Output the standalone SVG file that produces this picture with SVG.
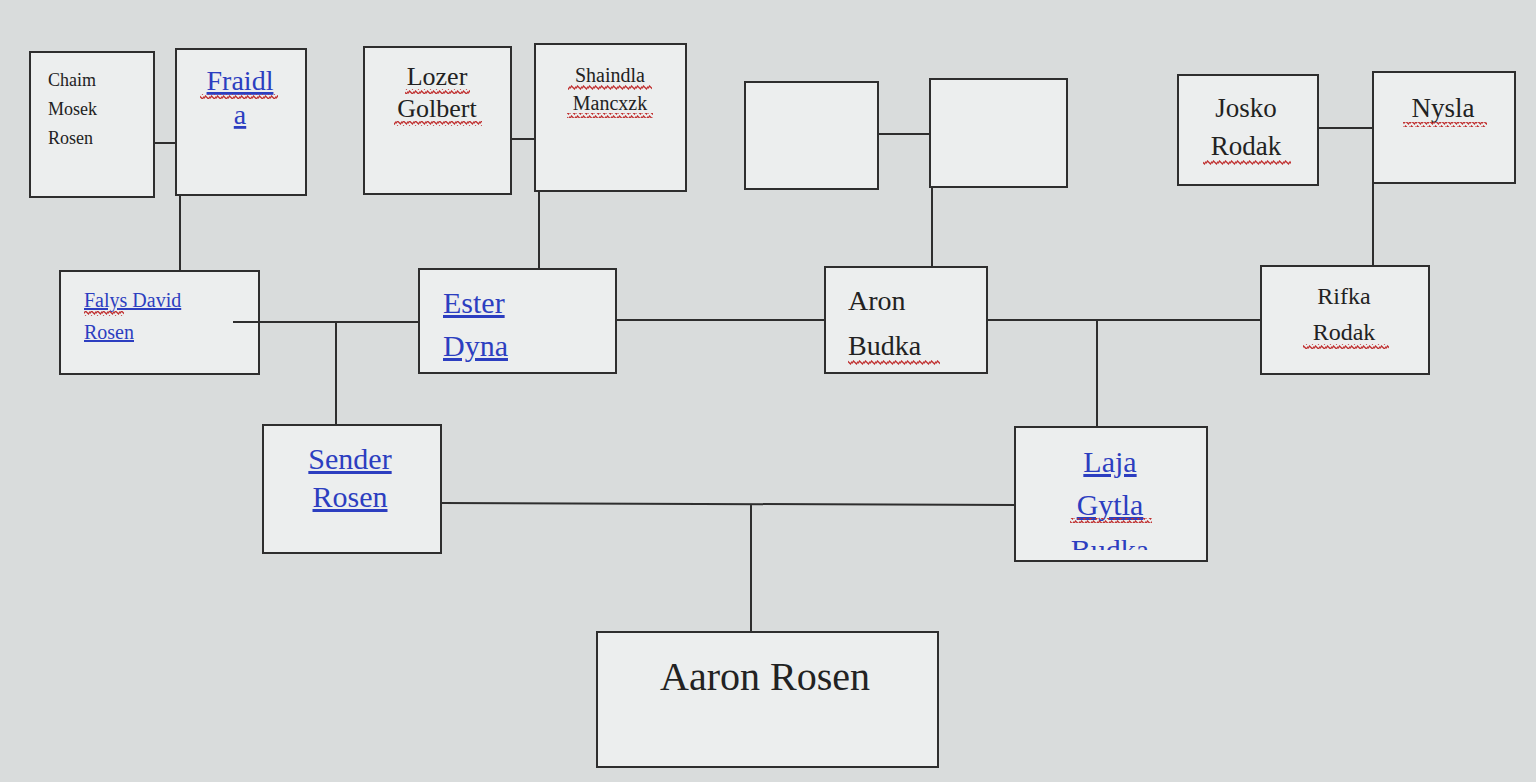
<svg xmlns="http://www.w3.org/2000/svg" width="1536" height="782" viewBox="0 0 1536 782">
<defs>
<pattern id="wavy" width="6" height="5" patternUnits="userSpaceOnUse"><path d="M0,3.5 L1.5,1 L4.5,4 L6,1.5" fill="none" stroke="#c03030" stroke-width="1.3"/></pattern>
<clipPath id="lajaClip"><rect x="1016" y="428" width="190" height="122"/></clipPath>
</defs>
<style>
.box{fill:#eceeee;stroke:#2e2e2e;stroke-width:2}
.ln{stroke:#2e2e2e;stroke-width:2;fill:none}
text{font-family:"Liberation Serif","Times New Roman",serif;fill:#222}
.lk{fill:#2c3ec0;text-decoration:underline}
.w{fill:url(#wavy)}
</style>
<rect width="1536" height="782" fill="#d9dcdc"/>
<g id="chaim"><rect class="box" x="30" y="52" width="124" height="145"/>
<text x="48" y="86" font-size="18">Chaim</text><text x="48" y="115" font-size="18">Mosek</text><text x="48" y="144" font-size="18">Rosen</text></g>
<g id="fraidla"><rect class="box" x="176" y="49" width="130" height="146"/>
<text class="lk" x="240" y="90" font-size="28" text-anchor="middle">Fraidl</text><rect class="w" x="200" y="94" width="78" height="5"/>
<text class="lk" x="240" y="124" font-size="28" text-anchor="middle">a</text></g>
<g id="lozer"><rect class="box" x="364" y="47" width="147" height="147"/>
<text x="437" y="85" font-size="26" text-anchor="middle">Lozer</text><rect class="w" x="405" y="89" width="65" height="5"/>
<text x="437" y="117" font-size="26" text-anchor="middle">Golbert</text><rect class="w" x="394" y="121" width="88" height="5"/></g>
<g id="shaindla"><rect class="box" x="535" y="44" width="151" height="147"/>
<text x="610" y="82" font-size="20" text-anchor="middle">Shaindla</text><rect class="w" x="568" y="85" width="84" height="5"/>
<text x="610" y="110" font-size="20" text-anchor="middle">Mancxzk</text><rect class="w" x="567" y="113" width="86" height="5"/></g>
<g id="blank1"><rect class="box" x="745" y="82" width="133" height="107"/></g>
<g id="blank2"><rect class="box" x="930" y="79" width="137" height="108"/></g>
<g id="josko"><rect class="box" x="1178" y="75" width="140" height="110"/>
<text x="1246" y="117" font-size="27" text-anchor="middle">Josko</text>
<text x="1246" y="155" font-size="27" text-anchor="middle">Rodak</text><rect class="w" x="1203" y="160" width="88" height="5"/></g>
<g id="nysla"><rect class="box" x="1373" y="72" width="142" height="111"/>
<text x="1443" y="117" font-size="27" text-anchor="middle">Nysla</text><rect class="w" x="1403" y="122" width="84" height="5"/></g>
<g id="falys"><rect class="box" x="60" y="271" width="199" height="103"/>
<text class="lk" x="84" y="307" font-size="20">Falys David</text><rect class="w" x="84" y="311" width="40" height="5"/>
<text class="lk" x="84" y="339" font-size="20">Rosen</text></g>
<g id="ester"><rect class="box" x="419" y="269" width="197" height="104"/>
<text class="lk" x="443" y="313" font-size="30">Ester</text>
<text class="lk" x="443" y="356" font-size="30">Dyna</text></g>
<g id="aron"><rect class="box" x="825" y="267" width="162" height="106"/>
<text x="848" y="310" font-size="28">Aron</text>
<text x="848" y="355" font-size="28">Budka</text><rect class="w" x="848" y="360" width="92" height="5"/></g>
<g id="rifka"><rect class="box" x="1261" y="266" width="168" height="108"/>
<text x="1344" y="304" font-size="24" text-anchor="middle">Rifka</text>
<text x="1344" y="340" font-size="24" text-anchor="middle">Rodak</text><rect class="w" x="1303" y="344" width="86" height="5"/></g>
<g id="sender"><rect class="box" x="263" y="425" width="178" height="128"/>
<text class="lk" x="350" y="469" font-size="30" text-anchor="middle">Sender</text>
<text class="lk" x="350" y="507" font-size="30" text-anchor="middle">Rosen</text></g>
<g id="laja"><rect class="box" x="1015" y="427" width="192" height="134"/>
<text class="lk" x="1110" y="472" font-size="30" text-anchor="middle">Laja</text>
<text class="lk" x="1110" y="515" font-size="30" text-anchor="middle">Gytla</text><rect class="w" x="1070" y="518" width="82" height="5"/>
<text class="lk" x="1110" y="560" font-size="30" text-anchor="middle" clip-path="url(#lajaClip)">Budka</text></g>
<g id="aaron"><rect class="box" x="597" y="632" width="341" height="135"/>
<text x="765" y="690" font-size="40" text-anchor="middle">Aaron Rosen</text></g>
<g id="connectors">
<path class="ln" d="M154,143H176M180,195V271"/>
<path class="ln" d="M511,139H535M539,191V269"/>
<path class="ln" d="M878,134H930M932,187V267"/>
<path class="ln" d="M1318,128H1373M1373,183V266"/>
<path class="ln" d="M233,322H419M616,320H825M987,320H1261"/>
<path class="ln" d="M336,322V425M1097,320V427"/>
<path class="ln" d="M441,503L1015,505M751,504V632"/>
</g>
</svg>
